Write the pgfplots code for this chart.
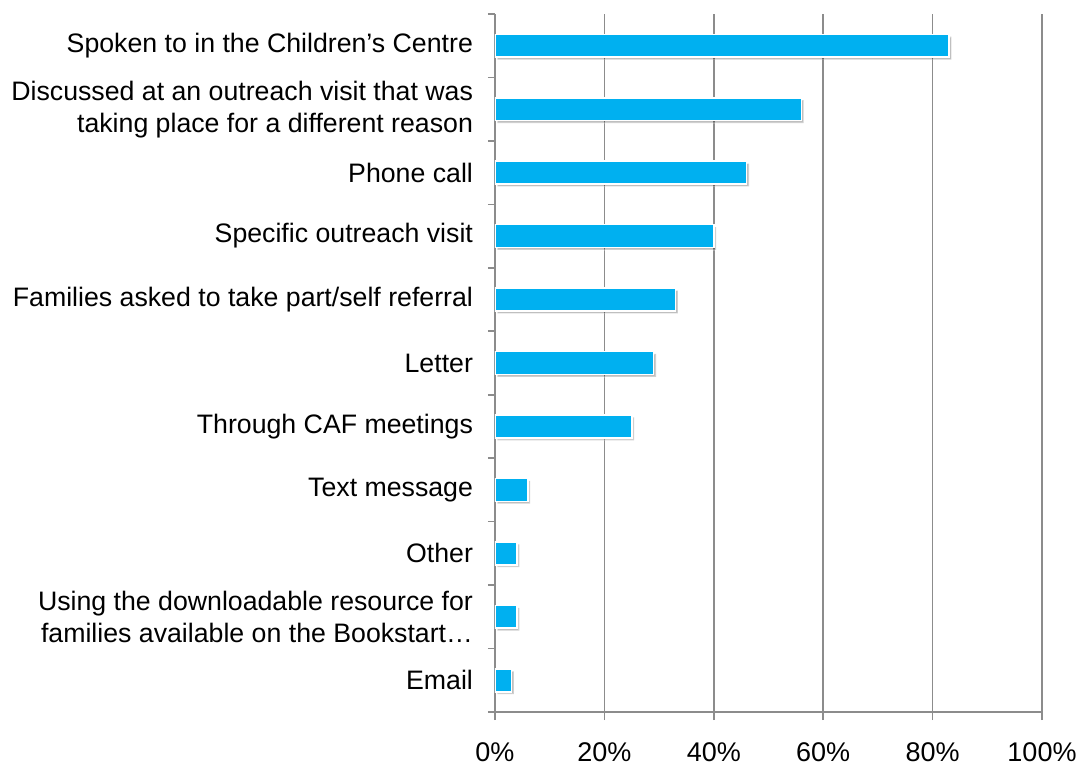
\documentclass[border=0pt]{standalone}
\usepackage{fontspec}
\setmainfont{Liberation Sans}
\usepackage{pgfplots}
\pgfplotsset{compat=1.18}
\usetikzlibrary{shadows}
\definecolor{barblue}{HTML}{00B0F0}
\definecolor{gridgray}{HTML}{8C8C8C}
\begin{document}
\begin{tikzpicture}
\path[use as bounding box] (-247.5pt,-26.5pt) rectangle (292.5pt,356pt);
\begin{axis}[
  at={(0,0)}, anchor=south west,
  scale only axis, width=273.5pt, height=349pt,
  xbar, bar width=0.36,
  xmin=0, xmax=100, ymin=-0.5, ymax=10.5, y dir=reverse,
  axis x line=bottom, axis y line=left,
  axis line style={-, draw=gridgray, line width=0.8pt},
  xtick={0,20,...,100},
  xticklabel={\pgfmathprintnumber{\tick}\%},
  xmajorgrids, grid style={draw=gridgray, line width=0.8pt},
  tick align=outside, major tick length=4pt, minor tick length=3.5pt,
  every tick/.style={draw=gridgray, line width=0.8pt},
  ytick={0,...,10},
  every major y tick/.style={draw=none},
  minor ytick={-0.5,0.5,...,10.5},
  yticklabels={
    {Spoken to in the Children’s Centre},
    {Discussed at an outreach visit that was\\taking place for a different reason},
    {Phone call},
    {Specific outreach visit},
    {Families asked to take part/self referral},
    {Letter},
    {Through CAF meetings},
    {Text message},
    {Other},
    {Using the downloadable resource for\\families available on the Bookstart…},
    {Email}},
  yticklabel style={align=right, font=\fontsize{13.35pt}{16pt}\selectfont, xshift=-3.5pt},
  xticklabel style={font=\fontsize{13.5pt}{16pt}\selectfont, yshift=-8pt},
  /pgf/number format/assume math mode=true,
]
\addplot[fill=barblue, draw=white, line width=0.8pt,
  drop shadow={shadow xshift=1.2pt, shadow yshift=-1.2pt, opacity=0.25, fill=black}]
  coordinates {(83,0) (56,1) (46,2) (40,3) (33,4) (29,5) (25,6) (6,7) (4,8) (4,9) (3,10)};
\end{axis}
\end{tikzpicture}
\end{document}
